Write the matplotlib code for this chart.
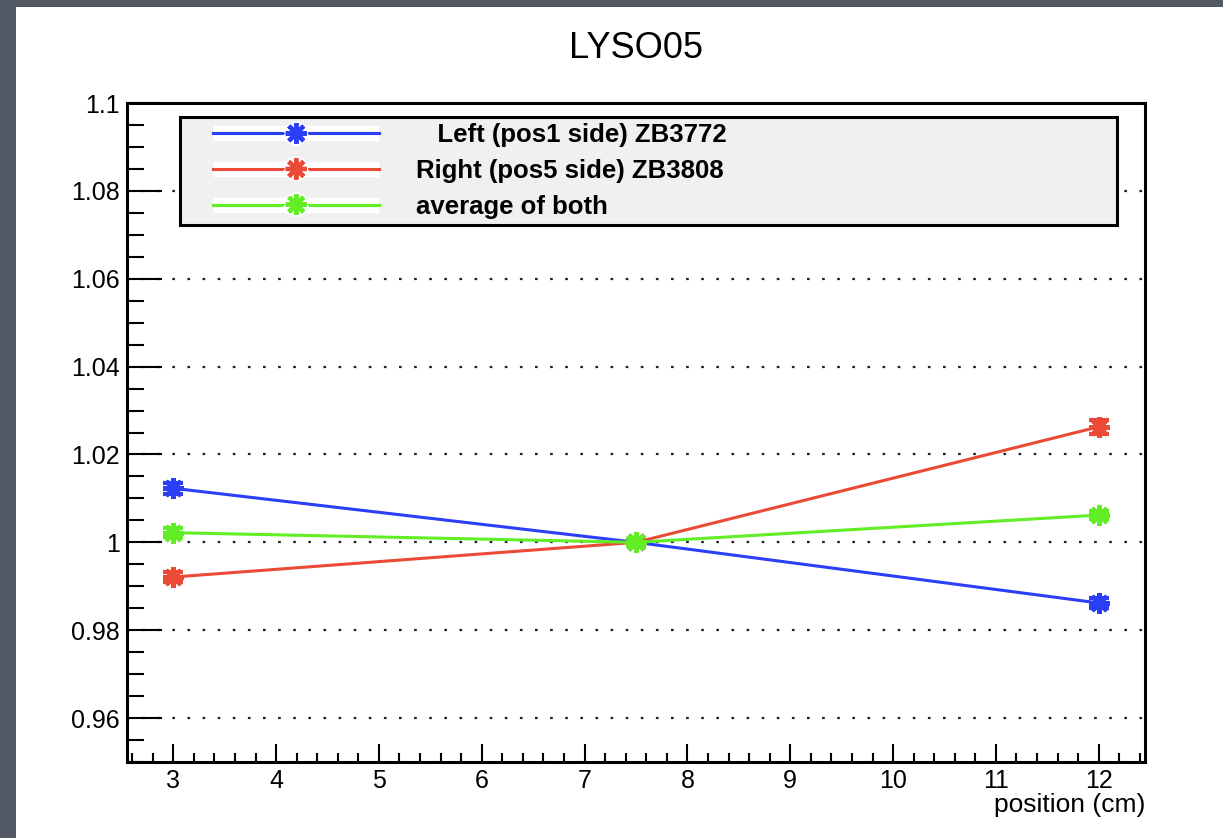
import numpy as np
import matplotlib
matplotlib.use("Agg")
import matplotlib.pyplot as plt
from matplotlib.patches import Rectangle
from matplotlib.lines import Line2D
from matplotlib.legend_handler import HandlerLine2D
from matplotlib.ticker import MultipleLocator, FuncFormatter
import matplotlib.patheffects as pe

plt.rcParams['font.family'] = ['Liberation Sans', 'DejaVu Sans']

# data
position = [3, 7.5, 12]
left_val = [1.0123, 1.0, 0.9862]
left_err = [0.0012, 0.0008, 0.0012]
right_val = [0.9921, 1.0, 1.0263]
right_err = [0.0012, 0.0008, 0.0016]
avg_val = [1.0022, 1.0, 1.0062]
avg_err = [0.0010, 0.0008, 0.0010]

labels = ['   Left (pos1 side) ZB3772', 'Right (pos5 side) ZB3808', 'average of both']
colors = ['#2b3ef8', '#ea4a36', '#62ee24']

fig = plt.figure(figsize=(12.23, 8.38), dpi=100)
fig.patch.set_facecolor('#535865')
fig.patches.append(Rectangle((16/1223, 0), 1, 1 - 7/838, transform=fig.transFigure,
                             facecolor='white', edgecolor='none', zorder=-10))

ax = fig.add_axes([127/1223, 1 - 762/838, 1018/1223, 659/838])

marker = (8, 2, 0)
handles = []
for vals, errs, c, lab in zip([left_val, right_val, avg_val],
                              [left_err, right_err, avg_err], colors, labels):
    eb = ax.errorbar(position, vals, yerr=errs, color=c, lw=2.2, marker=marker,
                     markersize=15, markeredgewidth=3, ecolor=c, elinewidth=2.8,
                     capsize=7, capthick=2.8, label=lab, zorder=3)
    handles.append(eb[0])

ax.set_xlim(2.55, 12.45)
ax.set_ylim(0.95, 1.1)

ax.xaxis.set_major_locator(MultipleLocator(1))
ax.xaxis.set_minor_locator(MultipleLocator(0.2))
ax.yaxis.set_major_locator(MultipleLocator(0.02))
ax.yaxis.set_minor_locator(MultipleLocator(0.005))
ax.yaxis.set_major_formatter(FuncFormatter(lambda v, _: f'{round(v, 3):g}'))

ax.tick_params(axis='x', which='major', direction='in', length=13, width=1.5,
               labelsize=18, pad=5)
ax.tick_params(axis='x', which='minor', direction='in', length=6.5, width=1.5)
ax.tick_params(axis='y', which='major', direction='in', length=25, width=1.5,
               labelsize=18, pad=5)
ax.tick_params(axis='y', which='minor', direction='in', length=12, width=1.5)

for s in ax.spines.values():
    s.set_linewidth(2.2)

ax.yaxis.grid(True, color='#222222', linewidth=1.6, linestyle=(0, (1.2, 5.6)))
ax.set_axisbelow(True)

ax.set_xlabel('position (cm)', loc='right', fontsize=19, labelpad=0)
fig.text(636/1223, 1 - 49/838, 'LYSO05', ha='center', va='center', fontsize=26)

leg = ax.legend(handles, labels, loc='upper left',
                bbox_to_anchor=(53/1018, 1 - 14/659, 937/1018, 0.0),
                mode='expand', borderaxespad=0, fontsize=18.5, handlelength=7.5,
                handletextpad=1.44, borderpad=0.25, labelspacing=0.45, numpoints=1,
                handler_map={Line2D: HandlerLine2D(xpad=1.05)},
                frameon=True, fancybox=False, facecolor='#f0f0f0',
                edgecolor='black', framealpha=1)
leg.get_frame().set_linewidth(2.2)
for ln in leg.get_lines():
    ln.set_path_effects([pe.withStroke(linewidth=11, foreground='white', capstyle='butt'),
                         pe.Normal()])
for t in leg.get_texts():
    t.set_fontweight('bold')

fig.savefig('out.png', dpi=100, facecolor=fig.get_facecolor())
